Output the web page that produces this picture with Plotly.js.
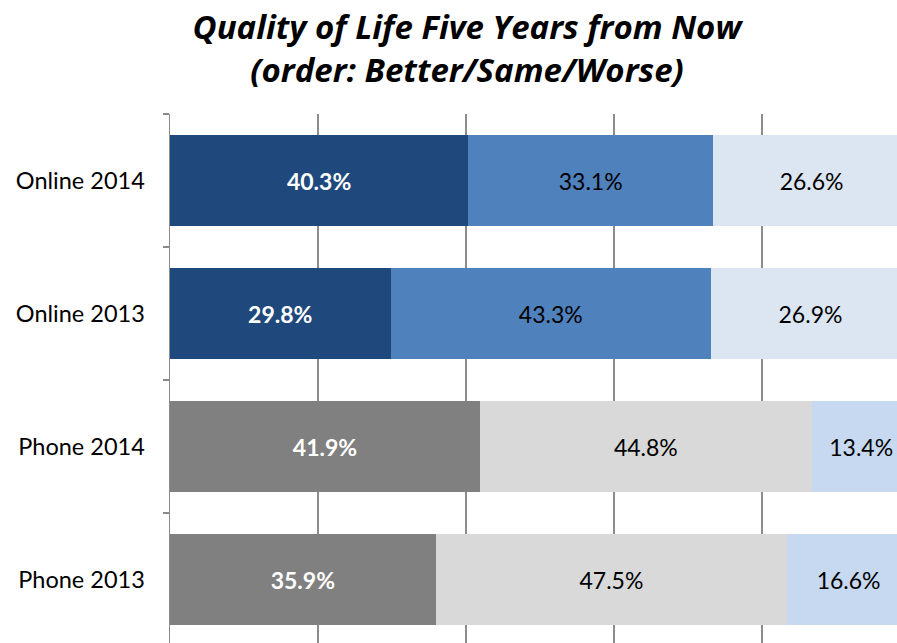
<!DOCTYPE html>
<html>
<head>
<meta charset="utf-8">
<script src="https://cdn.plot.ly/plotly-3.0.1.min.js"></script>
<style>
html,body{margin:0;padding:0;overflow:hidden;background:#fff;width:897px;height:643px;}
#chart{width:920px;height:660px;}
</style>
</head>
<body>
<div id="chart"></div>
<script>
const categories = ["Online 2014", "Online 2013", "Phone 2014", "Phone 2013"];
const better = [40.3, 29.8, 41.9, 35.9];
const same = [33.1, 43.3, 44.8, 47.5];
const worse = [26.6, 26.9, 13.4, 16.6];

const betterColors = ["#1F497D", "#1F497D", "#808080", "#808080"];
const sameColors = ["#4F81BD", "#4F81BD", "#D9D9D9", "#D9D9D9"];
const worseColors = ["#DCE6F2", "#DCE6F2", "#C6D9F1", "#C6D9F1"];

const FONT = "Lato, 'Open Sans', sans-serif";
const TITLE_FONT = "'Open Sans', Lato, sans-serif";

function mk(name, vals, colors, txtColor, weight) {
  return {
    type: "bar", orientation: "h", name: name,
    y: categories, x: vals,
    marker: {color: colors, line: {width: 0}},
    text: vals.map(v => v.toFixed(1) + "%"),
    texttemplate: "%{text}",
    textposition: "inside",
    insidetextanchor: "middle",
    textangle: 0,
    constraintext: "none",
    textfont: {family: FONT, size: 23, color: txtColor, weight: weight},
    hoverinfo: "skip"
  };
}

const data = [
  mk("Better", better, betterColors, "#FFFFFF", 700),
  mk("Same", same, sameColors, "#000000", 400),
  mk("Worse", worse, worseColors, "#000000", 400)
];

const layout = {
  width: 920, height: 660,
  margin: {l: 170, r: 10, t: 114, b: 14},
  barmode: "stack",
  bargap: 0.316,
  showlegend: false,
  paper_bgcolor: "#fff", plot_bgcolor: "#fff",
  font: {family: FONT, color: "#000"},
  title: {
    text: "<b><i>Quality of Life Five Years from Now<br>(order: Better/Same/Worse)</i></b>",
    font: {family: TITLE_FONT, size: 33, color: "#000"},
    x: 467/920, xanchor: "center", xref: "container",
    y: 1 - 39/660, yanchor: "middle", yref: "container"
  },
  xaxis: {
    range: [0, 100], showgrid: true, gridcolor: "#8C8C8C", gridwidth: 1.5,
    dtick: 20, showticklabels: false, zeroline: false, ticks: "", fixedrange: true
  },
  yaxis: {
    type: "category", autorange: "reversed",
    tickson: "boundaries", ticks: "outside", ticklen: 6, tickcolor: "#8C8C8C", tickwidth: 1.5,
    showline: true, linecolor: "#8C8C8C", linewidth: 1.5,
    showgrid: false, zeroline: false,
    tickfont: {family: FONT, size: 23.5, color: "#000"},
    ticklabelstandoff: 19
  }
};

Plotly.newPlot("chart", data, layout, {displayModeBar: false, staticPlot: true});
</script>
</body>
</html>
